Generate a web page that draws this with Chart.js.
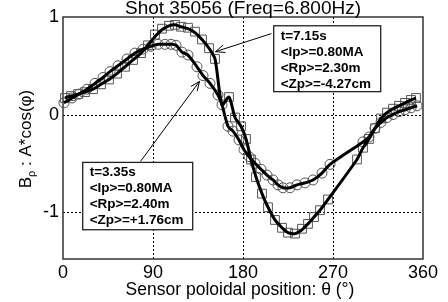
<!DOCTYPE html>
<html>
<head>
<meta charset="utf-8">
<script src="https://cdn.jsdelivr.net/npm/chart.js@4.4.0/dist/chart.umd.min.js"></script>
<style>
  body { margin: 0; background: #fff; }
  canvas { display: block; }
</style>
</head>
<body>
<canvas id="bpChart" width="448" height="302"></canvas>
<script>
// ---- data ----
// t=3.35s shot (circles)
const theta335 = [1, 9, 16, 24, 32, 40, 47, 55, 64, 72, 80, 88, 95, 102, 108, 113, 119, 125, 134, 140, 147, 155, 159,
  165, 170, 176, 181, 186, 192, 198, 204, 210, 215, 220, 227, 234, 242, 250, 259, 267,
  300, 306, 312, 318, 324, 330, 336, 342, 348, 354];
const bp335 = [0.12, 0.17, 0.21, 0.26, 0.32, 0.38, 0.44, 0.50, 0.57, 0.63, 0.67, 0.70, 0.72, 0.72, 0.72, 0.71, 0.64, 0.61, 0.49, 0.40, 0.32, 0.20, 0.10,
  -0.12, -0.17, -0.26, -0.36, -0.43, -0.50, -0.56, -0.62, -0.67, -0.72, -0.75, -0.75, -0.72, -0.70, -0.67, -0.60, -0.51,
  -0.28, -0.23, -0.14, -0.08, -0.03, 0.00, 0.03, 0.05, 0.07, 0.09];

// t=7.15s shot (squares)
const theta715 = [2, 8, 15, 22, 30, 38, 46, 54, 62, 70, 78, 85, 92, 99, 106, 112, 118, 125, 132, 139, 146, 152,
  166, 172, 178, 183, 188, 193, 199, 205, 212, 219, 225, 232, 239, 245, 251, 257, 265,
  294, 300, 306, 312, 318, 324, 330, 336, 342, 348, 353];
const bp715 = [0.17, 0.19, 0.21, 0.23, 0.26, 0.31, 0.36, 0.42, 0.49, 0.56, 0.63, 0.71, 0.82, 0.88, 0.91, 0.92, 0.90, 0.89, 0.85, 0.77, 0.68, 0.57,
  0.18, -0.03, -0.12, -0.25, -0.46, -0.64, -0.81, -0.95, -1.08, -1.16, -1.21, -1.22, -1.17, -1.12, -1.05, -0.98, -0.87,
  -0.46, -0.34, -0.25, -0.14, -0.04, 0.02, 0.06, 0.09, 0.12, 0.15, 0.17];

// fitted curves (thick lines)
const fit335Theta = theta335;
const fit335 = bp335;
const fit715Theta = [2, 8, 15, 22, 30, 38, 46, 54, 62, 70, 78, 85, 92, 99, 106, 112, 118, 125, 132, 139, 146, 152, 159,
  166, 172, 178, 183, 188, 193, 199, 205, 212, 219, 225, 232, 239, 245, 251, 257, 265,
  294, 300, 306, 312, 318, 324, 330, 336, 342, 348, 353];
const fit715 = [0.17, 0.19, 0.21, 0.23, 0.26, 0.31, 0.36, 0.42, 0.49, 0.56, 0.63, 0.71, 0.80, 0.87, 0.91, 0.92, 0.90, 0.88, 0.84, 0.77, 0.68, 0.57, 0.10,
  0.18, -0.03, -0.12, -0.25, -0.46, -0.64, -0.81, -0.95, -1.08, -1.16, -1.21, -1.22, -1.18, -1.12, -1.05, -0.98, -0.87,
  -0.46, -0.34, -0.25, -0.14, -0.04, 0.02, 0.06, 0.09, 0.12, 0.15, 0.17];

const xTicks = [0, 90, 180, 270, 360];
const yTicks = [-1, 0, 1];
const xGrid = [90, 180, 270];
const yGrid = [-1, 0];

const titleText = 'Shot 35056 (Freq=6.800Hz)';
const xTitle = 'Sensor poloidal position: \u03b8 (\u00b0)';

// annotation boxes: [left, top, right, bottom] in data units, arrow from -> to
const notes = [
  { lines: ['t=7.15s', '<Ip>=0.80MA', '<Rp>=2.30m', '<Zp>=-4.27cm'],
    box: [210.7, 0.91, 317.7, 0.235], arrow: [208.5, 0.83, 152.5, 0.645] },
  { lines: ['t=3.35s', '<Ip>=0.80MA', '<Rp>=2.40m', '<Zp>=+1.76cm'],
    box: [19.7, -0.49, 129.7, -1.18], arrow: [77.5, -0.48, 136.5, 0.34] }
];

const toXY = (xs, ys) => xs.map((x, i) => ({ x: x, y: ys[i] }));

Chart.defaults.font.family = '"Liberation Sans", Arial, sans-serif';
Chart.defaults.color = '#000';

// frame, dotted grid, notes and titles
const overlay = {
  id: 'overlay',
  beforeDatasetsDraw(chart) {
    const { ctx, chartArea: a, scales: { x, y } } = chart;
    ctx.save();
    ctx.strokeStyle = '#000';
    ctx.lineWidth = 1;
    ctx.setLineDash([2, 2]);
    xGrid.forEach(v => {
      const px = Math.round(x.getPixelForValue(v)) + 0.5;
      ctx.beginPath(); ctx.moveTo(px, a.top); ctx.lineTo(px, a.bottom); ctx.stroke();
    });
    yGrid.forEach(v => {
      const py = Math.round(y.getPixelForValue(v)) + 0.5;
      ctx.beginPath(); ctx.moveTo(a.left, py); ctx.lineTo(a.right, py); ctx.stroke();
    });
    ctx.setLineDash([]);
    ctx.strokeStyle = '#333';
    ctx.lineWidth = 1.5;
    ctx.strokeRect(a.left, a.top, a.right - a.left, a.bottom - a.top);
    ctx.restore();
  },
  afterDatasetsDraw(chart) {
    const { ctx, scales: { x, y } } = chart;
    ctx.save();
    notes.forEach(n => {
      // arrow
      const x1 = x.getPixelForValue(n.arrow[0]), y1 = y.getPixelForValue(n.arrow[1]);
      const x2 = x.getPixelForValue(n.arrow[2]), y2 = y.getPixelForValue(n.arrow[3]);
      ctx.strokeStyle = '#000';
      ctx.lineWidth = 1;
      ctx.beginPath(); ctx.moveTo(x1, y1); ctx.lineTo(x2, y2); ctx.stroke();
      const ang = Math.atan2(y2 - y1, x2 - x1);
      ctx.beginPath();
      ctx.moveTo(x2 - 10 * Math.cos(ang - 0.4), y2 - 10 * Math.sin(ang - 0.4));
      ctx.lineTo(x2, y2);
      ctx.lineTo(x2 - 10 * Math.cos(ang + 0.4), y2 - 10 * Math.sin(ang + 0.4));
      ctx.stroke();
      // box
      const l = x.getPixelForValue(n.box[0]), t = y.getPixelForValue(n.box[1]);
      const r = x.getPixelForValue(n.box[2]), b = y.getPixelForValue(n.box[3]);
      ctx.fillStyle = '#fff';
      ctx.fillRect(l, t, r - l, b - t);
      ctx.strokeStyle = '#222';
      ctx.lineWidth = 1.3;
      ctx.strokeRect(l, t, r - l, b - t);
      ctx.fillStyle = '#000';
      ctx.font = 'bold 13.5px "Liberation Sans", Arial, sans-serif';
      ctx.textBaseline = 'middle';
      ctx.textAlign = 'left';
      n.lines.forEach((s, i) => ctx.fillText(s, l + 7, t + 10 + i * 16));
    });
    ctx.restore();
  },
  afterDraw(chart) {
    const { ctx, chartArea: a } = chart;
    ctx.save();
    ctx.fillStyle = '#000';
    ctx.textAlign = 'center';
    ctx.textBaseline = 'alphabetic';
    ctx.font = '19px "Liberation Sans", Arial, sans-serif';
    ctx.fillText(titleText, (a.left + a.right) / 2, 14);
    ctx.font = '17.5px "Liberation Sans", Arial, sans-serif';
    ctx.fillText(xTitle, 240, 295);
    // y title, rotated, with subscript rho
    ctx.translate(31, 139);
    ctx.rotate(-Math.PI / 2);
    const big = '17px "Liberation Sans", Arial, sans-serif';
    const small = '11px "Liberation Sans", Arial, sans-serif';
    const partA = 'B', partB = '\u03c1', partC = ' : A*cos(\u03c6)';
    ctx.font = big; const wA = ctx.measureText(partA).width; const wC = ctx.measureText(partC).width;
    ctx.font = small; const wB = ctx.measureText(partB).width;
    let cx = -(wA + wB + wC) / 2;
    ctx.textAlign = 'left';
    ctx.font = big; ctx.fillText(partA, cx, 0); cx += wA;
    ctx.font = small; ctx.fillText(partB, cx, 4); cx += wB;
    ctx.font = big; ctx.fillText(partC, cx, 0);
    ctx.restore();
  }
};

const markerStyle = {
  showLine: false,
  borderColor: '#555',
  backgroundColor: 'rgba(0,0,0,0)',
  borderWidth: 1,
  clip: false,
  order: 2
};
const fitStyle = {
  showLine: true,
  borderColor: '#000',
  borderWidth: 3,
  pointRadius: 0,
  tension: 0.25,
  fill: false,
  order: 1
};

const bpCtx = document.getElementById('bpChart').getContext('2d');
const bpChart = new Chart(bpCtx, {
  type: 'scatter',
  data: {
    datasets: [
      Object.assign({ label: 't=3.35s', data: toXY(theta335, bp335), pointStyle: 'circle', pointRadius: 5 }, markerStyle),
      Object.assign({ label: 't=7.15s', data: toXY(theta715, bp715), pointStyle: 'rect', pointRadius: 6.2 }, markerStyle),
      Object.assign({ label: 'fit 3.35s', data: toXY(fit335Theta, fit335) }, fitStyle),
      Object.assign({ label: 'fit 7.15s', data: toXY(fit715Theta, fit715) }, fitStyle)
    ]
  },
  options: {
    responsive: false,
    animation: false,
    events: [],
    layout: { padding: { top: 17, right: 25, left: 0, bottom: 0 } },
    plugins: {
      legend: { display: false },
      tooltip: { enabled: false }
    },
    scales: {
      x: {
        type: 'linear',
        min: 0,
        max: 360,
        grid: { display: false, drawTicks: false },
        border: { display: false },
        afterBuildTicks: s => { s.ticks = xTicks.map(v => ({ value: v })); },
        afterFit: s => { s.height = 43; },
        ticks: { font: { size: 18 }, padding: 3, maxRotation: 0 }
      },
      y: {
        type: 'linear',
        min: -1.48,
        max: 1,
        grid: { display: false, drawTicks: false },
        border: { display: false },
        afterBuildTicks: s => { s.ticks = yTicks.map(v => ({ value: v })); },
        afterFit: s => { s.width = 63; },
        ticks: { font: { size: 18 }, padding: 4 }
      }
    }
  },
  plugins: [overlay]
});
</script>
</body>
</html>
